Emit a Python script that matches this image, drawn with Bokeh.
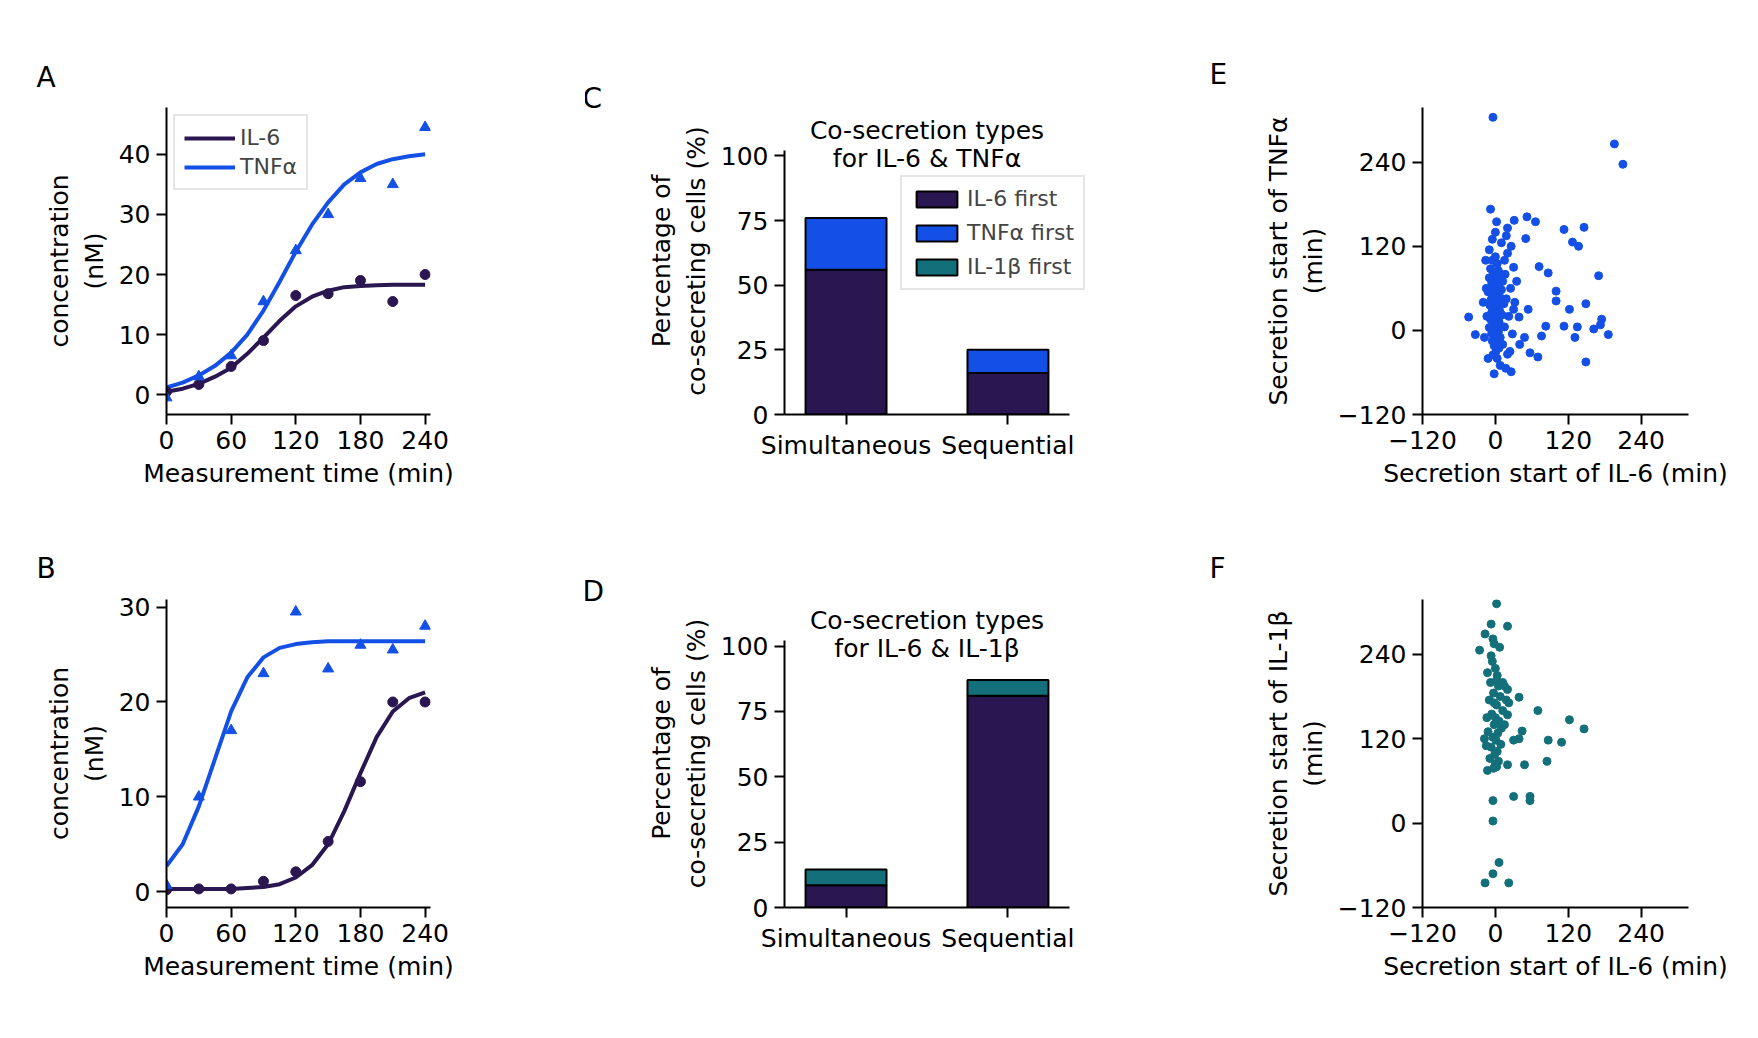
from bokeh.plotting import figure
from bokeh.layouts import gridplot
from bokeh.models import Legend, LegendItem, FixedTicker, Title
from bokeh.core.properties import value
from bokeh.embed import file_html
from bokeh.resources import INLINE

PURPLE = "#2a1650"; BLUE = "#1450e6"; TEAL = "#13707a"
FONT = "DejaVu Sans"
S = 1.125


def d(v):
    return int(round(v * S))


def px(v):
    return "%dpx" % d(v)


times = [0, 30, 60, 90, 120, 150, 180, 210, 240]
a_il6 = [0.5, 1.7, 4.7, 9.0, 16.5, 16.8, 19.0, 15.5, 20.0]
a_tnf = [-0.5, 3.0, 6.5, 15.5, 24.0, 30.0, 36.0, 35.0, 44.5]
fit_t = [0, 15, 30, 45, 60, 75, 90, 105, 120, 135, 150, 165, 180, 195, 210, 225, 240]
a_il6_fit = [0.5, 1.0, 1.8, 3.0, 4.5, 6.8, 9.5, 12.3, 14.7, 16.3, 17.3, 17.9, 18.1, 18.2, 18.3, 18.3, 18.3]
a_tnf_fit = [1.2, 2.0, 3.2, 4.8, 7.0, 10.0, 14.0, 18.8, 23.8, 28.3, 32.0, 35.0, 37.0, 38.4, 39.2, 39.7, 40.0]
b_il6 = [0.2, 0.3, 0.3, 1.1, 2.1, 5.3, 11.6, 20.0, 20.0]
b_tnf = [0.7, 10.0, 17.0, 23.0, 29.5, 23.5, 26.0, 25.5, 28.0]
b_il6_fit = [0.3, 0.3, 0.3, 0.3, 0.3, 0.4, 0.5, 0.8, 1.5, 2.8, 5.0, 8.5, 12.5, 16.3, 19.0, 20.4, 21.0]
b_tnf_fit = [2.7, 5.0, 9.0, 14.0, 19.0, 22.6, 24.7, 25.7, 26.1, 26.3, 26.4, 26.4, 26.4, 26.4, 26.4, 26.4, 26.4]

cos_types = ["Simultaneous", "Sequential"]
c_il6_first = [56, 16]
c_tnf_first = [20, 9]
d_il6_first = [8.5, 81]
d_il1b_first = [6, 6]

e_x = [-4, 196, 210, -8, 52, 66, 31, 20, 50, 113, 137, 127, 146, 170, 72, 87, 100, 100, 122, 149, 175, 173, 162, 186, 135, 131, 149, 76, 57, 70, 48, 30, 39, 54, 83, 113, 17, 26, -2, -33, -44, 20,
       -5, 0, 3, -8, 5, -3, 8, -10, 2, 12, -6, 0, 6, -2, 10, -12, 4, -4, 1, 9, -7, 3, -1, 14, -9, 5, 0, -3, 7, -6, 2, 11, -2, 4, -8, 1, 6, -4, 0, 9, -10, 3, -1, 5, -6, 2, -3, 8, 0, -5, 4, -2, 6, 1, -4, 3, 12, 15, 18, 16, 20, -15, -14, -18, 25, 28, 22, 30, -20, 10, -5, -10, 15, 0, 35, 40, 24, -12, 8, 2, 18, 26, -16, 32]
e_y = [304, 266, 237, 173, 162, 155, 157, 146, 131, 144, 120, 126, 147, 78, 91, 82, 56, 42, 30, 38, 16, 8, 2, -6, 5, -10, -45, -8, -32, -38, -10, 30, 19, 30, 6, 6, -54, -59, -62, -6, 19, -34,
       100, 105, 95, 88, 85, 80, 78, 75, 72, 70, 68, 65, 62, 60, 58, 55, 55, 50, 48, 46, 44, 42, 40, 38, 36, 34, 32, 30, 28, 26, 24, 22, 20, 18, 16, 14, 12, 10, 8, 6, 4, 2, 0, -2, -4, -6, -8, -10, -12, -15, -18, -22, -25, -30, -35, -40, -20, 5, 45, 80, 110, 60, 20, -10, 60, -5, 20, 90, 40, 125, 130, 115, 100, 140, 70, -20, -30, -40, -50, 155, 135, 120, 100, 40]
f_x = [2, -7, 20, -17, -4, -26, -7, -13, 2, 15, 39, 22, -2, 20, 70, 44, 87, 109, 122, 146, 39, 30, 85, 48, 20, -13, 2, 30, 57, 57, -4, -4, 6, -4, -17, 22,
       -5, 0, 3, -8, 5, -3, 8, -10, 2, 12, -6, 0, 6, -2, 10, -12, 4, -4, 1, 9, -7, 3, -1, -9, 5, 0, -3, -15, 15, 18, 20, -14, -18, 7, -2, 12]
f_y = [312, 283, 280, 269, 262, 246, 238, 214, 203, 195, 179, 171, 171, 154, 160, 131, 118, 115, 147, 134, 120, 118, 88, 83, 83, 75, 80, 38, 38, 32, 32, 3, -56, -72, -85, -85,
       230, 220, 210, 200, 195, 185, 180, 175, 168, 160, 155, 150, 145, 140, 135, 130, 128, 122, 118, 112, 108, 102, 98, 92, 88, 84, 78, 110, 140, 175, 190, 150, 120, 250, 255, 200]


def style(p, xticks, yticks):
    p.grid.visible = False
    p.outline_line_color = None
    p.background_fill_color = None
    p.border_fill_color = None
    for ax in (p.xaxis[0], p.yaxis[0]):
        ax.axis_line_width = d(2.2)
        ax.major_tick_line_width = d(2.2)
        ax.major_tick_out = d(9)
        ax.major_tick_in = 0
        ax.minor_tick_line_color = None
        ax.major_label_text_font = FONT
        ax.major_label_text_font_size = px(22)
        ax.major_label_text_color = "black"
        ax.major_label_standoff = d(5)
        ax.axis_label_text_font = FONT
        ax.axis_label_text_font_size = px(22)
        ax.axis_label_text_font_style = "normal"
        ax.axis_label_text_color = "black"
        ax.axis_label_standoff = d(6)
    p.xaxis[0].ticker = FixedTicker(ticks=xticks)
    p.yaxis[0].ticker = FixedTicker(ticks=yticks)


def letter(p, txt, offset, standoff):
    p.add_layout(Title(text=txt, align="left", offset=d(offset), standoff=d(standoff),
                       text_font=FONT, text_font_size=px(25), text_font_style="normal",
                       text_color="black"), "above")


def figpanel(w, h, l, r, t, b, xr, yr):
    return figure(width=d(w), height=d(h), min_border_left=d(l), min_border_right=d(r),
                  min_border_top=d(t), min_border_bottom=d(b), x_range=xr, y_range=yr,
                  output_backend="svg", toolbar_location=None)


def linepanel(h, t, b, yr, il6_fit, tnf_fit, il6, tnf, yticks):
    p = figpanel(520, h, 148, 138, t, b, (0, 245), yr)
    l1 = p.line(fit_t, il6_fit, color=PURPLE, line_width=d(3.5))
    l2 = p.line(fit_t, tnf_fit, color=BLUE, line_width=d(3.5))
    p.scatter(times, il6, marker="circle", size=d(9), color=PURPLE)
    p.scatter(times, tnf, marker="triangle", size=d(10), color=BLUE)
    style(p, [0, 60, 120, 180, 240], yticks)
    p.xaxis.axis_label = "Measurement time (min)"
    p.yaxis.axis_label = "concentration\n(nM)"
    return p, l1, l2


# A
pa, la, ta = linepanel(450, 88, 80, (-3.3, 47.8), a_il6_fit, a_tnf_fit, a_il6, a_tnf, [0, 10, 20, 30, 40])
lega = Legend(items=[LegendItem(label="IL-6", renderers=[la]), LegendItem(label="TNFα", renderers=[ta])],
              location="top_left", label_text_font=FONT, label_text_font_size=px(20),
              glyph_width=d(45), border_line_color="#cccccc", border_line_width=2,
              margin=d(6), padding=d(8), spacing=d(4))
pa.add_layout(lega)
letter(pa, "A", -116, 24)

# B
pb, _, _ = linepanel(458, 83, 101, (-1.66, 30.8), b_il6_fit, b_tnf_fit, b_il6, b_tnf, [0, 10, 20, 30])
letter(pb, "B", -116, 26)


def barpanel(h, t, b, ytop, bot, top, topcol, title2, let, sto, y1, y2):
    p = figpanel(520, h, 177, 50, t, b, (-0.38, 1.658), (0, ytop))
    xs = [0, 1]
    r1 = p.vbar(x=xs, top=bot, bottom=0, width=0.5, fill_color=PURPLE, line_color="black", line_width=d(2.2))
    tops = [bot[i] + top[i] for i in range(2)]
    r2 = p.vbar(x=xs, top=tops, bottom=bot, width=0.5, fill_color=topcol, line_color="black", line_width=d(2.2))
    style(p, [0, 1], [0, 25, 50, 75, 100])
    p.yaxis[0].bounds = (0, 102)
    p.xaxis[0].bounds = (-0.38, 1.38)
    p.xaxis[0].major_label_overrides = {0: cos_types[0], 1: cos_types[1]}
    p.yaxis.axis_label = "Percentage of\nco-secreting cells (%)"
    p.text(x=[0.5, 0.5], y=[y1, y2], text=["Co-secretion types", title2],
           text_align="center", text_baseline="middle", text_font=value(FONT),
           text_font_size=px(22), text_color="black")
    letter(p, let, -180, sto)
    return p, r1, r2


pc, c1, c2 = barpanel(450, 50, 82, 118.7, c_il6_first, c_tnf_first, BLUE, "for IL-6 & TNFα", "C", -12, 110, 99)
c3 = pc.vbar(x=[0], top=[0], width=0, fill_color=TEAL, line_color="black", line_width=d(2.2))
legc = Legend(items=[LegendItem(label="IL-6 first", renderers=[c1]),
                     LegendItem(label="TNFα first", renderers=[c2]),
                     LegendItem(label="IL-1β first", renderers=[c3])],
              location=(d(103), d(110)), label_text_font=FONT, label_text_font_size=px(20),
              glyph_width=d(45), glyph_height=d(18), border_line_color="#cccccc", border_line_width=2,
              padding=d(8), spacing=d(8))
pc.add_layout(legc)
pd, _, _ = barpanel(458, 40, 101, 117.8, d_il6_first, d_il1b_first, TEAL, "for IL-6 & IL-1β", "D", -15, 109.7, 99)


def scatpanel(h, t, b, xs, ys, col, ylab, let, sto):
    p = figpanel(508, h, 224, 48, t, b, (-120, 318), (-120, 318))
    p.scatter(xs, ys, marker="circle", size=d(7), color=col)
    style(p, [-120, 0, 120, 240], [-120, 0, 120, 240])
    p.xaxis.axis_label = "Secretion start of IL-6 (min)"
    p.yaxis.axis_label = ylab
    letter(p, let, -189, sto)
    return p


pe = scatpanel(450, 95, 81, e_x, e_y, BLUE, "Secretion start of TNFα\n(min)", "E", 30)
pf = scatpanel(458, 83, 101, f_x, f_y, TEAL, "Secretion start of IL-1β\n(min)", "F", 26)

grid = gridplot([[pa, pc, pe], [pb, pd, pf]], toolbar_location=None)
open("out.html", "w").write(file_html(grid, INLINE))
